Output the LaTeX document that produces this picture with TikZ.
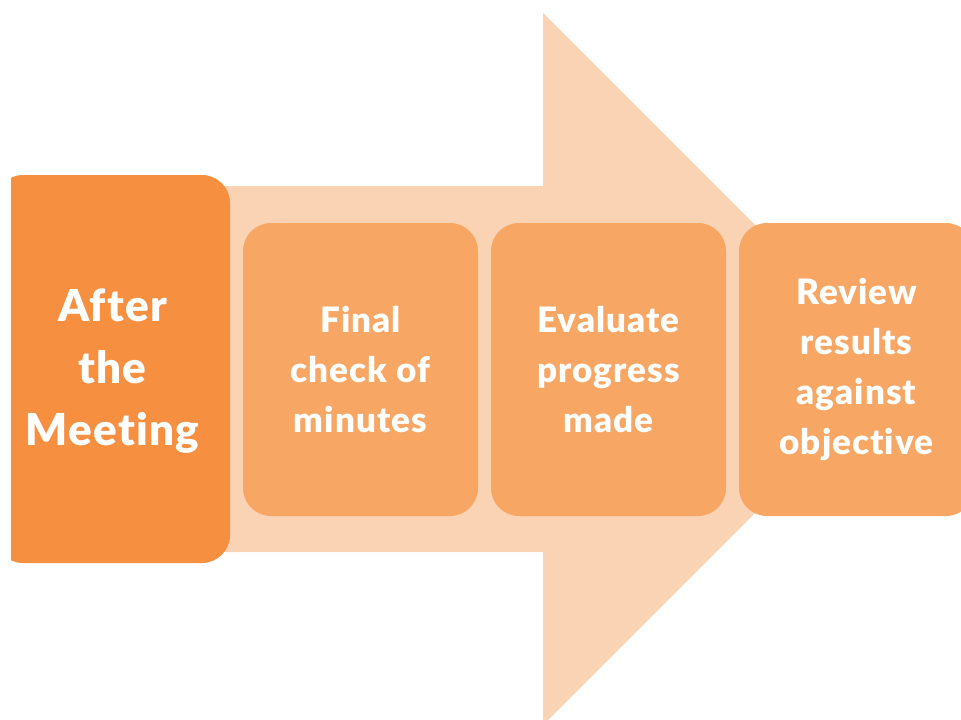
\documentclass[tikz,border=0pt]{standalone}
\usepackage{fontspec}
\setmainfont[LetterSpace=3,Ligatures=NoCommon,BoldFont={Lato Black}]{Lato}
\usepackage{xcolor}
\definecolor{arrowfill}{HTML}{FAD2B4}
\definecolor{headfill}{HTML}{F68F40}
\definecolor{stepfill}{HTML}{F7A664}

\begin{document}
\begin{tikzpicture}[x=1pt,y=1pt,yscale=-1,xscale=1,
  stepbox/.style={fill=stepfill,rounded corners=28pt,minimum width=235pt,minimum height=293pt,inner sep=0pt},
  steptext/.style={text=white,align=center,font=\bfseries\fontsize{35}{50}\selectfont}]
\useasboundingbox (0,0) rectangle (961,720);
\clip (0,0) rectangle (961,720);

%Shape: Big arrow
\fill [arrowfill] (100,186) -- (543,186) -- (543,13) -- (899,369) -- (543,725) -- (543,552) -- (100,552) -- cycle ;

%Shape: first box, cut on the left
\begin{scope}
\clip (11,0) rectangle (961,720);
\node [fill=headfill,rounded corners=28pt,minimum width=235pt,minimum height=388pt,inner sep=0pt] (box1) at (112.5,369) {};
\end{scope}

%Shape: step boxes
\node [stepbox] (box2) at (360.5,369.5) {};
\node [stepbox] (box3) at (608.5,369.5) {};
\node [stepbox] (box4) at (856.5,369.5) {};

% Text Node
\node [text=white,align=center,font=\bfseries\fontsize{44}{62}\selectfont] (t1) at ([yshift=2pt]box1) {After\\the\\Meeting};
% Text Node
\node [steptext] (t2) at (box2) {Final\\check of\\minutes};
% Text Node
\node [steptext] (t3) at (box3) {Evaluate\\progress\\made};
% Text Node
\node [steptext] (t4) at (box4) {Review\\results\\against\\objective};

\end{tikzpicture}
\end{document}
